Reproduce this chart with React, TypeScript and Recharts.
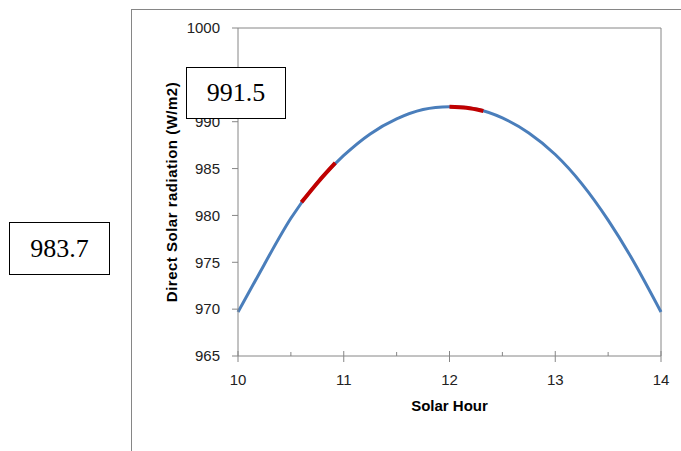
import React from "react";
import { LineChart, Line, XAxis, YAxis, ReferenceLine } from "recharts";

// solar hour vs direct radiation
const hours = [10, 10.25, 10.5, 10.75, 11, 11.25, 11.5, 11.75, 12, 12.25, 12.5, 12.75, 13, 13.25, 13.5, 13.75, 14];
const radiation = [969.7, 974.8, 979.7, 983.5, 986.4, 988.7, 990.3, 991.3, 991.6, 991.35, 990.4, 988.8, 986.5, 983.4, 979.5, 974.9, 969.7];

// highlighted stretches of the curve
const redHoursA = [10.6, 10.76, 10.92];
const redValuesA = [981.4, 983.6, 985.6];
const redHoursB = [12.0, 12.16, 12.32];
const redValuesB = [991.6, 991.5, 991.15];

const xTicks = [10, 10.5, 11, 11.5, 12, 12.5, 13, 13.5, 14];
const yTicks = [965, 970, 975, 980, 985, 990, 995, 1000];

const boxValues = ["991.5", "983.7"];

const gray = "#868686";
const font = "'Liberation Sans', Arial, sans-serif";

const mainData = hours.map((h, i) => ({ hour: h, value: radiation[i] }));
const redDataA = redHoursA.map((h, i) => ({ hour: h, value: redValuesA[i] }));
const redDataB = redHoursB.map((h, i) => ({ hour: h, value: redValuesB[i] }));

function XTick(props: any) {
  const { x, y, payload } = props;
  const axisY = y - 18;
  const major = Number.isInteger(payload.value);
  return (
    <g>
      <line x1={x} x2={x} y1={axisY - (major ? 5 : 4)} y2={major ? axisY + 6 : axisY} stroke={gray} />
      {major && (
        <text x={x} y={y} dy="0.71em" textAnchor="middle" fontSize={15} fill="#222" fontFamily={font}>
          {payload.value}
        </text>
      )}
    </g>
  );
}

const boxStyle: React.CSSProperties = {
  position: "absolute",
  border: "1.5px solid #000",
  background: "#fff",
  boxSizing: "border-box",
  display: "flex",
  alignItems: "center",
  justifyContent: "center",
  fontFamily: "'Liberation Serif', 'Times New Roman', serif",
  fontSize: 26,
  color: "#000",
};

export default function App() {
  return (
    <div style={{ position: "absolute", left: 0, top: 0, width: 681, height: 451, background: "#fff", overflow: "hidden" }}>
      <div
        style={{
          position: "absolute",
          left: 131,
          top: 9,
          width: 560,
          height: 460,
          borderLeft: `1px solid ${gray}`,
          borderTop: `1px solid ${gray}`,
        }}
      />
      <LineChart
        width={681}
        height={451}
        data={mainData}
        margin={{ top: 28, right: 20, bottom: 35, left: 162 }}
        style={{ position: "absolute", left: 0, top: 0 }}
      >
        <XAxis
          dataKey="hour"
          type="number"
          domain={[10, 14]}
          ticks={xTicks}
          interval={0}
          height={60}
          axisLine={{ stroke: gray }}
          tickLine={false}
          tickSize={6}
          tickMargin={12}
          tick={<XTick />}
          label={{
            value: "Solar Hour",
            position: "insideBottom",
            offset: 5,
            style: { fontFamily: font, fontSize: 15, fontWeight: "bold", fill: "#000" },
          }}
        />
        <YAxis
          type="number"
          domain={[965, 1000]}
          ticks={yTicks}
          interval={0}
          width={76}
          axisLine={{ stroke: gray }}
          tickLine={{ stroke: gray }}
          tickSize={6}
          tickMargin={12}
          tick={{ fontSize: 15, fill: "#222", fontFamily: font }}
          label={{
            value: "Direct Solar radiation (W/m2)",
            angle: -90,
            position: "insideLeft",
            offset: 10,
            style: { textAnchor: "middle", fontFamily: font, fontSize: 15, fontWeight: "bold", fill: "#000", letterSpacing: 0.5 },
          }}
        />
        <ReferenceLine y={1000} stroke={gray} />
        <ReferenceLine x={14} stroke={gray} />
        <Line
          type="natural"
          dataKey="value"
          stroke="#4A7EBB"
          strokeWidth={3}
          dot={false}
          activeDot={false}
          isAnimationActive={false}
        />
        <Line
          data={redDataA}
          type="monotone"
          dataKey="value"
          stroke="#C00000"
          strokeWidth={4}
          dot={false}
          activeDot={false}
          isAnimationActive={false}
        />
        <Line
          data={redDataB}
          type="monotone"
          dataKey="value"
          stroke="#C00000"
          strokeWidth={4}
          dot={false}
          activeDot={false}
          isAnimationActive={false}
        />
      </LineChart>
      <div style={{ ...boxStyle, left: 186, top: 67, width: 100, height: 52 }}>{boxValues[0]}</div>
      <div style={{ ...boxStyle, left: 9, top: 222, width: 101, height: 53 }}>{boxValues[1]}</div>
    </div>
  );
}
